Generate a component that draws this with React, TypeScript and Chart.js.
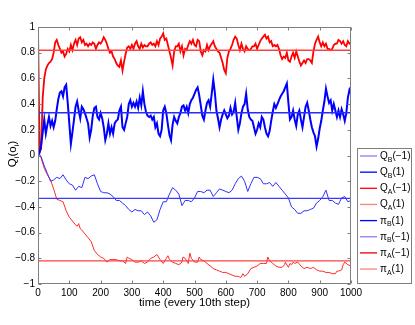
import React, { useEffect, useRef } from "react";
import { Chart, registerables } from "chart.js";

Chart.register(...registerables);

// ---------- data ----------
const STEP_FINE = 5; // thick series sampled every 5 time units (0..1000)
const STEP_COARSE = 10; // Q_B(-1) sampled every 10 time units (0..1000)

// Q_A(-1): upper red, noisy
const QA_NEG = [
  1.0, 0.03, 0.05, 0.45, 0.6, 0.67, 0.7, 0.72, 0.73, 0.75, 0.8, 0.88, 0.9, 0.86, 0.83, 0.8, 0.81, 0.77, 0.79, 0.83,
  0.81, 0.86, 0.82, 0.87, 0.9, 0.86, 0.91, 0.92, 0.88, 0.9, 0.86, 0.87, 0.85, 0.87, 0.86, 0.88, 0.87, 0.83, 0.86, 0.88,
  0.87, 0.89, 0.92, 0.9, 0.87, 0.83, 0.8, 0.81, 0.77, 0.75, 0.72, 0.7, 0.69, 0.74, 0.66, 0.73, 0.79, 0.84, 0.85, 0.83,
  0.86, 0.83, 0.87, 0.89, 0.85, 0.83, 0.87, 0.84, 0.86, 0.85, 0.85, 0.87, 0.88, 0.86, 0.87, 0.85, 0.89, 0.86, 0.91, 0.925,
  0.95, 0.9, 0.91, 0.86, 0.81, 0.76, 0.7, 0.81, 0.85, 0.85, 0.87, 0.81, 0.85, 0.78, 0.83, 0.82, 0.86, 0.89, 0.87, 0.9,
  0.86, 0.85, 0.9, 0.89, 0.81, 0.78, 0.82, 0.81, 0.86, 0.82, 0.85, 0.87, 0.89, 0.85, 0.83, 0.81, 0.8, 0.76, 0.72, 0.665,
  0.64, 0.76, 0.81, 0.83, 0.86, 0.9, 0.925, 0.91, 0.86, 0.82, 0.87, 0.83, 0.81, 0.85, 0.83, 0.82, 0.83, 0.85, 0.85, 0.87,
  0.83, 0.86, 0.89, 0.91, 0.925, 0.94, 0.91, 0.925, 0.88, 0.89, 0.85, 0.86, 0.85, 0.86, 0.83, 0.78, 0.75, 0.77, 0.76, 0.8,
  0.74, 0.73, 0.77, 0.8, 0.76, 0.81, 0.77, 0.73, 0.7, 0.72, 0.74, 0.72, 0.75, 0.75, 0.74, 0.72, 0.81, 0.87, 0.9, 0.925,
  0.88, 0.85, 0.88, 0.85, 0.87, 0.83, 0.83, 0.82, 0.83, 0.86, 0.87, 0.87, 0.9, 0.89, 0.87, 0.89, 0.86, 0.85, 0.89, 0.87,
  0.88,
];

// Q_B(1): upper blue, noisy
const QB_POS = [
  0.0, 0.02, 0.08, 0.18, 0.28, 0.17, 0.24, 0.3, 0.23, 0.27, 0.22, 0.27, 0.36, 0.44, 0.49, 0.5, 0.46, 0.53, 0.55, 0.41,
  0.25, 0.09, 0.18, 0.28, 0.38, 0.42, 0.35, 0.29, 0.38, 0.36, 0.33, 0.29, 0.25, 0.14, 0.2, 0.31, 0.37, 0.38, 0.3, 0.28,
  0.33, 0.29, 0.22, 0.12, 0.17, 0.25, 0.17, 0.22, 0.17, 0.25, 0.27, 0.28, 0.35, 0.38, 0.22, 0.2, 0.25, 0.3, 0.4, 0.43,
  0.38, 0.41, 0.38, 0.42, 0.37, 0.45, 0.39, 0.5, 0.4, 0.34, 0.31, 0.3, 0.31, 0.28, 0.3, 0.22, 0.25, 0.17, 0.15, 0.2,
  0.35, 0.38, 0.33, 0.24, 0.16, 0.12, 0.24, 0.3, 0.27, 0.25, 0.3, 0.33, 0.38, 0.39, 0.35, 0.38, 0.33, 0.4, 0.43, 0.45,
  0.48, 0.51, 0.53, 0.47, 0.39, 0.31, 0.28, 0.35, 0.41, 0.43, 0.38, 0.48, 0.59, 0.49, 0.35, 0.29, 0.22, 0.28, 0.32, 0.35,
  0.32, 0.29, 0.31, 0.37, 0.32, 0.34, 0.41, 0.3, 0.2, 0.25, 0.33, 0.38, 0.4, 0.48, 0.36, 0.3, 0.28, 0.27, 0.22, 0.17,
  0.2, 0.25, 0.22, 0.3, 0.28, 0.22, 0.17, 0.15, 0.19, 0.27, 0.34, 0.4, 0.37, 0.4, 0.43, 0.46, 0.48, 0.5, 0.53, 0.56,
  0.41, 0.28, 0.3, 0.35, 0.28, 0.23, 0.32, 0.35, 0.28, 0.22, 0.3, 0.38, 0.41, 0.35, 0.28, 0.22, 0.18, 0.15, 0.07, 0.13,
  0.21, 0.27, 0.35, 0.42, 0.52, 0.46, 0.41, 0.43, 0.35, 0.4, 0.35, 0.3, 0.35, 0.3, 0.36, 0.32, 0.27, 0.33, 0.45, 0.51,
  0.48,
];

// Q_B(-1): lower blue, thin
const QB_NEG = [
  0.02, -0.01, -0.08, -0.14, -0.2, -0.19, -0.17, -0.18, -0.15, -0.19,
  -0.22, -0.23, -0.27, -0.24, -0.25, -0.17, -0.18, -0.16, -0.15, -0.22,
  -0.28, -0.29, -0.29, -0.3, -0.32, -0.35, -0.35, -0.37, -0.39, -0.42,
  -0.44, -0.42, -0.43, -0.43, -0.46, -0.44, -0.47, -0.52, -0.5, -0.42,
  -0.36, -0.36, -0.3, -0.25, -0.27, -0.3, -0.39, -0.35, -0.35, -0.36,
  -0.33, -0.28, -0.28, -0.29, -0.27, -0.27, -0.32, -0.29, -0.26, -0.27,
  -0.28, -0.29, -0.27, -0.22, -0.18, -0.16, -0.2, -0.28, -0.22, -0.17,
  -0.17, -0.18, -0.22, -0.22, -0.21, -0.24, -0.21, -0.24, -0.27, -0.3,
  -0.33, -0.4, -0.42, -0.45, -0.45, -0.43, -0.43, -0.42, -0.41, -0.37,
  -0.35, -0.32, -0.27, -0.35, -0.35, -0.37, -0.38, -0.33, -0.32, -0.36,
  -0.35,
];

// Q_A(1): lower red, thin (sawtooth) - time stamps and values
const QA_POS_T = [
  0, 5, 10, 20, 30, 40, 50, 60, 70, 80, 90, 100, 110, 120, 125, 130, 135, 140, 150, 160,
  170, 180, 190, 200, 210, 220, 230, 240, 250, 260, 270, 280, 285, 290, 300, 310, 320, 330, 340, 350,
  360, 370, 380, 390, 400, 410, 415, 420, 430, 440, 450, 460, 463, 470, 480, 485, 490, 500, 510, 515,
  520, 530, 540, 550, 560, 570, 580, 590, 600, 610, 620, 630, 640, 648, 655, 660, 670, 680, 690, 700,
  710, 720, 730, 734, 740, 750, 760, 770, 780, 788, 790, 800, 805, 810, 815, 820, 830, 840, 850, 860,
  870, 880, 890, 900, 910, 920, 930, 940, 950, 955, 960, 970, 975, 980, 990, 1000,
];
const QA_POS_V = [
  0.02, 0.01, -0.02, -0.1, -0.15, -0.19, -0.26, -0.34, -0.35, -0.36, -0.43, -0.48, -0.51, -0.54, -0.55, -0.53, -0.57, -0.58, -0.61, -0.64,
  -0.67, -0.74, -0.77, -0.79, -0.8, -0.83, -0.81, -0.81, -0.81, -0.82, -0.82, -0.84, -0.79, -0.8, -0.81, -0.83, -0.83, -0.82, -0.84, -0.83,
  -0.8, -0.79, -0.77, -0.81, -0.84, -0.8, -0.78, -0.81, -0.83, -0.84, -0.85, -0.83, -0.79, -0.8, -0.84, -0.76, -0.8, -0.83, -0.83, -0.79,
  -0.81, -0.82, -0.84, -0.86, -0.88, -0.89, -0.9, -0.91, -0.91, -0.92, -0.93, -0.94, -0.94, -0.95, -0.92, -0.94, -0.92, -0.88, -0.87, -0.86,
  -0.84, -0.84, -0.84, -0.79, -0.82, -0.84, -0.86, -0.87, -0.87, -0.85, -0.83, -0.87, -0.84, -0.85, -0.83, -0.84, -0.83, -0.86, -0.88, -0.87,
  -0.88, -0.87, -0.89, -0.9, -0.9, -0.91, -0.91, -0.92, -0.92, -0.9, -0.9, -0.89, -0.85, -0.83, -0.85, -0.86,
];

// equilibrium strategies (horizontal reference lines)
const PI_B_POS = 0.333;
const PI_B_NEG = -0.333;
const PI_A_NEG = 0.82;
const PI_A_POS = -0.82;

const X_MIN = 0;
const X_MAX = 1000;
const X_STEP = 100;
const Y_MIN = -1;
const Y_MAX = 1;
const Y_STEP = 0.2;

// legend labels: [symbol, subscript, argument]
const LEGEND_LABELS: [string, string, string][] = [
  ["Q", "B", "(\u22121)"],
  ["Q", "B", "(1)"],
  ["Q", "A", "(\u22121)"],
  ["Q", "A", "(1)"],
  ["\u03C0", "B", "(1)"],
  ["\u03C0", "B", "(\u22121)"],
  ["\u03C0", "A", "(\u22121)"],
  ["\u03C0", "A", "(1)"],
];
const LEGEND_COLORS = ["#8080ff", "#0000ff", "#ff0000", "#ff8080", "#0000ff", "#8080ff", "#e00000", "#ff8080"];

const X_TITLE = "time (every 10th step)";
const FONT = "'Liberation Sans', Arial, Helvetica, sans-serif";

// ---------- helpers ----------
type Part = [string, boolean];

function drawParts(ctx: CanvasRenderingContext2D, parts: Part[], x: number, baseline: number, size: number, subSize: number, subDrop: number, align: "left" | "center") {
  const widths = parts.map(([t, sub]) => {
    ctx.font = `${sub ? subSize : size}px ${FONT}`;
    return ctx.measureText(t).width;
  });
  const total = widths.reduce((a, b) => a + b, 0);
  let cx = align === "center" ? x - total / 2 : x;
  ctx.textBaseline = "alphabetic";
  ctx.textAlign = "left";
  parts.forEach(([t, sub], i) => {
    ctx.font = `${sub ? subSize : size}px ${FONT}`;
    ctx.fillText(t, cx, sub ? baseline + subDrop : baseline);
    cx += widths[i];
  });
}

const frameAndTextPlugin = {
  id: "frameAndText",
  afterDraw(chart: any) {
    const ctx: CanvasRenderingContext2D = chart.ctx;
    const { left, right, top, bottom } = chart.chartArea;
    const xs = chart.scales.x;
    const ys = chart.scales.y;
    ctx.save();
    // axes box
    ctx.strokeStyle = "#7f7f7f";
    ctx.lineWidth = 1;
    const L = Math.round(left) + 0.5;
    const R = Math.round(right) - 0.5;
    const T = Math.round(top) + 0.5;
    const B = Math.round(bottom) - 0.5;
    ctx.strokeRect(L, T, R - L, B - T);
    // inward tick marks on all four sides
    const tl = 3;
    ctx.beginPath();
    xs.ticks.forEach((t: any) => {
      const px = Math.round(xs.getPixelForValue(t.value)) + 0.5;
      ctx.moveTo(px, B);
      ctx.lineTo(px, B - tl);
      ctx.moveTo(px, T);
      ctx.lineTo(px, T + tl);
    });
    ys.ticks.forEach((t: any) => {
      const py = Math.round(ys.getPixelForValue(t.value)) + 0.5;
      ctx.moveTo(L, py);
      ctx.lineTo(L + tl, py);
      ctx.moveTo(R, py);
      ctx.lineTo(R - tl, py);
    });
    ctx.stroke();

    ctx.fillStyle = "#000";
    // x title
    ctx.font = `11.5px ${FONT}`;
    ctx.textAlign = "center";
    ctx.textBaseline = "middle";
    ctx.fillText(X_TITLE, (left + right) / 2, 303);

    // y title Q_i(o_i), rotated
    ctx.save();
    ctx.translate(12, 154);
    ctx.rotate(-Math.PI / 2);
    drawParts(ctx, [["Q", false], ["i", true], ["(o", false], ["i", true], [")", false]], 0, 4, 11.5, 8, 3, "center");
    ctx.restore();

    // legend box
    const bx = 357, by = 148, bw = 55, bh = 135;
    ctx.fillStyle = "#fff";
    ctx.fillRect(bx, by, bw, bh);
    ctx.strokeStyle = "#7f7f7f";
    ctx.strokeRect(bx + 0.5, by + 0.5, bw - 1, bh);
    LEGEND_LABELS.forEach((lab, i) => {
      const y = by + 8 + i * 16.15;
      ctx.strokeStyle = LEGEND_COLORS[i];
      ctx.lineWidth = 1.3;
      ctx.beginPath();
      ctx.moveTo(360, y);
      ctx.lineTo(377, y);
      ctx.stroke();
      ctx.fillStyle = "#000";
      drawParts(ctx, [[lab[0], false], [lab[1], true], [lab[2], false]], 380, y + 3, 10, 7, 2.5, "left");
    });
    ctx.restore();
  },
};

function fmtY(v: number) {
  const r = Math.round(v * 10) / 10;
  if (r === 0) return "0";
  const s = String(Math.abs(r));
  return r < 0 ? "\u2212" + s : s;
}

export default function App() {
  const ref = useRef<HTMLCanvasElement>(null);
  useEffect(() => {
    document.body.style.margin = "0";
    const hline = (v: number) => [{ x: X_MIN, y: v }, { x: X_MAX, y: v }];
    const chart = new Chart(ref.current!, {
      type: "line",
      data: {
        datasets: [
          { label: "Q_B(-1)", data: QB_NEG.map((v, i) => ({ x: i * STEP_COARSE, y: v })), borderColor: "#2f2fff", borderWidth: 1, order: 1 },
          { label: "Q_B(1)", data: QB_POS.map((v, i) => ({ x: i * STEP_FINE, y: v })), borderColor: "#0000ff", borderWidth: 2, order: 1 },
          { label: "Q_A(-1)", data: QA_NEG.map((v, i) => ({ x: i * STEP_FINE, y: v })), borderColor: "#ff0000", borderWidth: 1.8, order: 1 },
          { label: "Q_A(1)", data: QA_POS_T.map((t, i) => ({ x: t, y: QA_POS_V[i] })), borderColor: "#ff2a2a", borderWidth: 1, order: 1 },
          { label: "pi_B(1)", data: hline(PI_B_POS), borderColor: "#2a2aff", borderWidth: 1.5, order: 0 },
          { label: "pi_B(-1)", data: hline(PI_B_NEG), borderColor: "#3a3aff", borderWidth: 1.2, order: 0 },
          { label: "pi_A(-1)", data: hline(PI_A_NEG), borderColor: "#ff4040", borderWidth: 1.5, order: 0 },
          { label: "pi_A(1)", data: hline(PI_A_POS), borderColor: "#ff4040", borderWidth: 1.2, order: 0 },
        ] as any,
      },
      options: {
        responsive: false,
        animation: false,
        parsing: true,
        elements: { point: { radius: 0 }, line: { tension: 0 } },
        layout: { padding: { left: 0, top: 27, right: 64, bottom: 0 } },
        plugins: { legend: { display: false }, tooltip: { enabled: false } },
        scales: {
          x: {
            type: "linear",
            min: X_MIN,
            max: X_MAX,
            ticks: {
              stepSize: X_STEP,
              padding: 3,
              color: "#000",
              font: { size: 10, family: FONT },
              maxRotation: 0,
              autoSkip: false,
              callback: (v: any) => String(v),
            },
            grid: { display: false, drawTicks: false },
            border: { display: false },
            afterFit: (s: any) => {
              s.height = 41;
            },
          },
          y: {
            type: "linear",
            min: Y_MIN,
            max: Y_MAX,
            ticks: {
              stepSize: Y_STEP,
              padding: 3,
              color: "#000",
              font: { size: 10, family: FONT },
              autoSkip: false,
              callback: (v: any) => fmtY(Number(v)),
            },
            grid: { display: false, drawTicks: false },
            border: { display: false },
            afterFit: (s: any) => {
              s.width = 38;
            },
          },
        },
      } as any,
      plugins: [frameAndTextPlugin],
    });
    return () => chart.destroy();
  }, []);
  return (
    <div style={{ width: 415, height: 325, background: "#fff" }}>
      <canvas ref={ref} width={415} height={325} style={{ display: "block" }} />
    </div>
  );
}
